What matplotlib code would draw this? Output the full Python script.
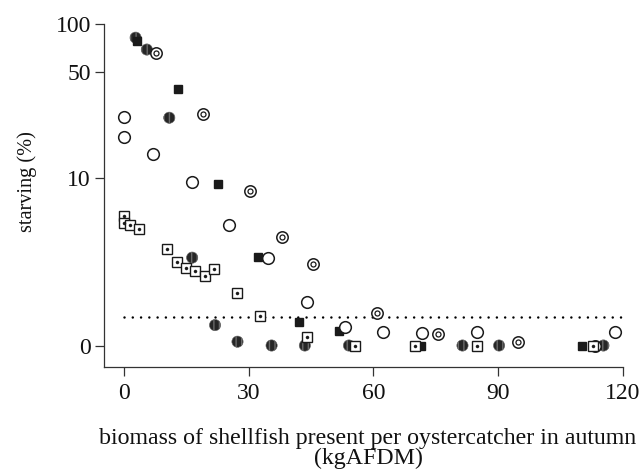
import numpy as np
import matplotlib
matplotlib.use("Agg")
import matplotlib.pyplot as plt

# ---- data ----
hatched_x = [2.8, 5.5, 10.9, 16.4, 21.9, 27.3, 35.5, 43.5, 54.1, 81.4, 90.2, 115.3]
hatched_y = [82, 69, 25.3, 2.53, 0.34, 0.056, 0, 0, 0, 0, 0, 0]

black_sq_x = [3.1, 12.9, 22.7, 0.0, 32.2, 42.1, 51.8, 71.4, 110.1]
black_sq_y = [78, 38.6, 9.16, 5.06, 2.55, 0.41, 0.23, 0, 0]

open_x = [0.1, 0.1, 6.9, 16.3, 25.3, 34.6, 43.9, 53.2, 62.4, 71.7, 84.9, 118.1]
open_y = [25.7, 19.0, 14.6, 9.5, 4.64, 2.5, 0.88, 0.31, 0.22, 0.205, 0.21, 0.22]

dotcirc_x = [7.7, 19.1, 30.3, 37.9, 45.5, 60.8, 75.6, 94.8, 113.3]
dotcirc_y = [65.9, 26.7, 8.19, 3.77, 2.22, 0.59, 0.18, 0.047, 0]

dotsq_x = [0.1, 0.0, 1.4, 3.6, 10.4, 12.7, 14.8, 17.1, 19.5, 21.6, 27.3, 32.7, 43.9, 55.6, 69.9, 85.0, 112.8]
dotsq_y = [5.42, 4.83, 4.64, 4.33, 2.98, 2.33, 2.03, 1.93, 1.72, 1.99, 1.12, 0.53, 0.135, 0, 0, 0, 0]

threshold = 0.5
x_ticks = [0, 30, 60, 90, 120]
y_ticks = [0, 10, 50, 100]
x_label = "biomass of shellfish present per oystercatcher in autumn\n(kgAFDM)"
y_label = "starving (%)"

plt.rcParams['font.family'] = ['Liberation Serif', 'DejaVu Serif']

fig = plt.figure(figsize=(6.44, 4.70), dpi=100)
W, H = 644, 470
L, R, T, B = 104, 623, 24, 367
ax = fig.add_axes([L / W, 1 - B / H, (R - L) / W, (B - T) / H])

fwd = lambda y: np.log10(np.asarray(y, dtype=float) + 1)
inv = lambda t: 10 ** np.asarray(t, dtype=float) - 1
ax.set_yscale('function', functions=(fwd, inv))

ax.set_xlim(-4.8, 120)
ax.set_ylim(inv(-0.134), 100)

# threshold dotted line
ax.axhline(threshold, xmin=(0 + 4.8) / 124.8, xmax=1, color='black', lw=1.8,
           linestyle=(0, (0.01, 3.3)), dash_capstyle='round', zorder=1)

ink = '#1a1a1a'
# hatched dark circles
ax.scatter(hatched_x, hatched_y, s=66, marker='o', facecolor='#262626',
           edgecolor='#6a6a6a', linewidths=0.4, hatch='|||', zorder=3)
# black squares
ax.plot(black_sq_x, black_sq_y, 's', ms=6, color=ink, mec=ink, zorder=3)
# open circles
ax.plot(open_x, open_y, 'o', ms=8.4, mfc='white', mec=ink, mew=1.1, zorder=3)
# circles with inner ring
ax.plot(dotcirc_x, dotcirc_y, 'o', ms=8.2, mfc='white', mec=ink, mew=1.1, zorder=3)
ax.plot(dotcirc_x, dotcirc_y, 'o', ms=3.6, mfc='white', mec=ink, mew=0.9, zorder=3)
# squares with dot
ax.plot(dotsq_x, dotsq_y, 's', ms=6.8, mfc='white', mec=ink, mew=1.0, zorder=3)
ax.plot(dotsq_x, dotsq_y, 'o', ms=2.2, mfc=ink, mec=ink, mew=0.3, zorder=3)

ax.set_xticks(x_ticks)
ax.set_xticklabels([str(v) for v in x_ticks])
ax.set_yticks(y_ticks)
ax.set_yticklabels([str(v) for v in y_ticks])
ax.minorticks_off()

for s in ['top', 'right']:
    ax.spines[s].set_visible(False)
for s in ['left', 'bottom']:
    ax.spines[s].set_color('#333333')
    ax.spines[s].set_linewidth(0.9)

ax.tick_params(axis='both', direction='out', length=6.5, width=0.9, color='#333333',
               labelsize=17, labelcolor='#111111')
ax.tick_params(axis='x', pad=5)
ax.tick_params(axis='y', pad=3)

ax.set_xlabel(x_label, fontsize=17.2, color='#111111', linespacing=0.92)
ax.xaxis.set_label_coords((368 - L) / (R - L), -(428 - B) / (B - T))
ax.set_ylabel(y_label, fontsize=14.6, color='#111111')
ax.yaxis.set_label_coords(-(L - 37) / (R - L), 1 - (182 - T) / (B - T))

fig.savefig('out.png', dpi=100)
